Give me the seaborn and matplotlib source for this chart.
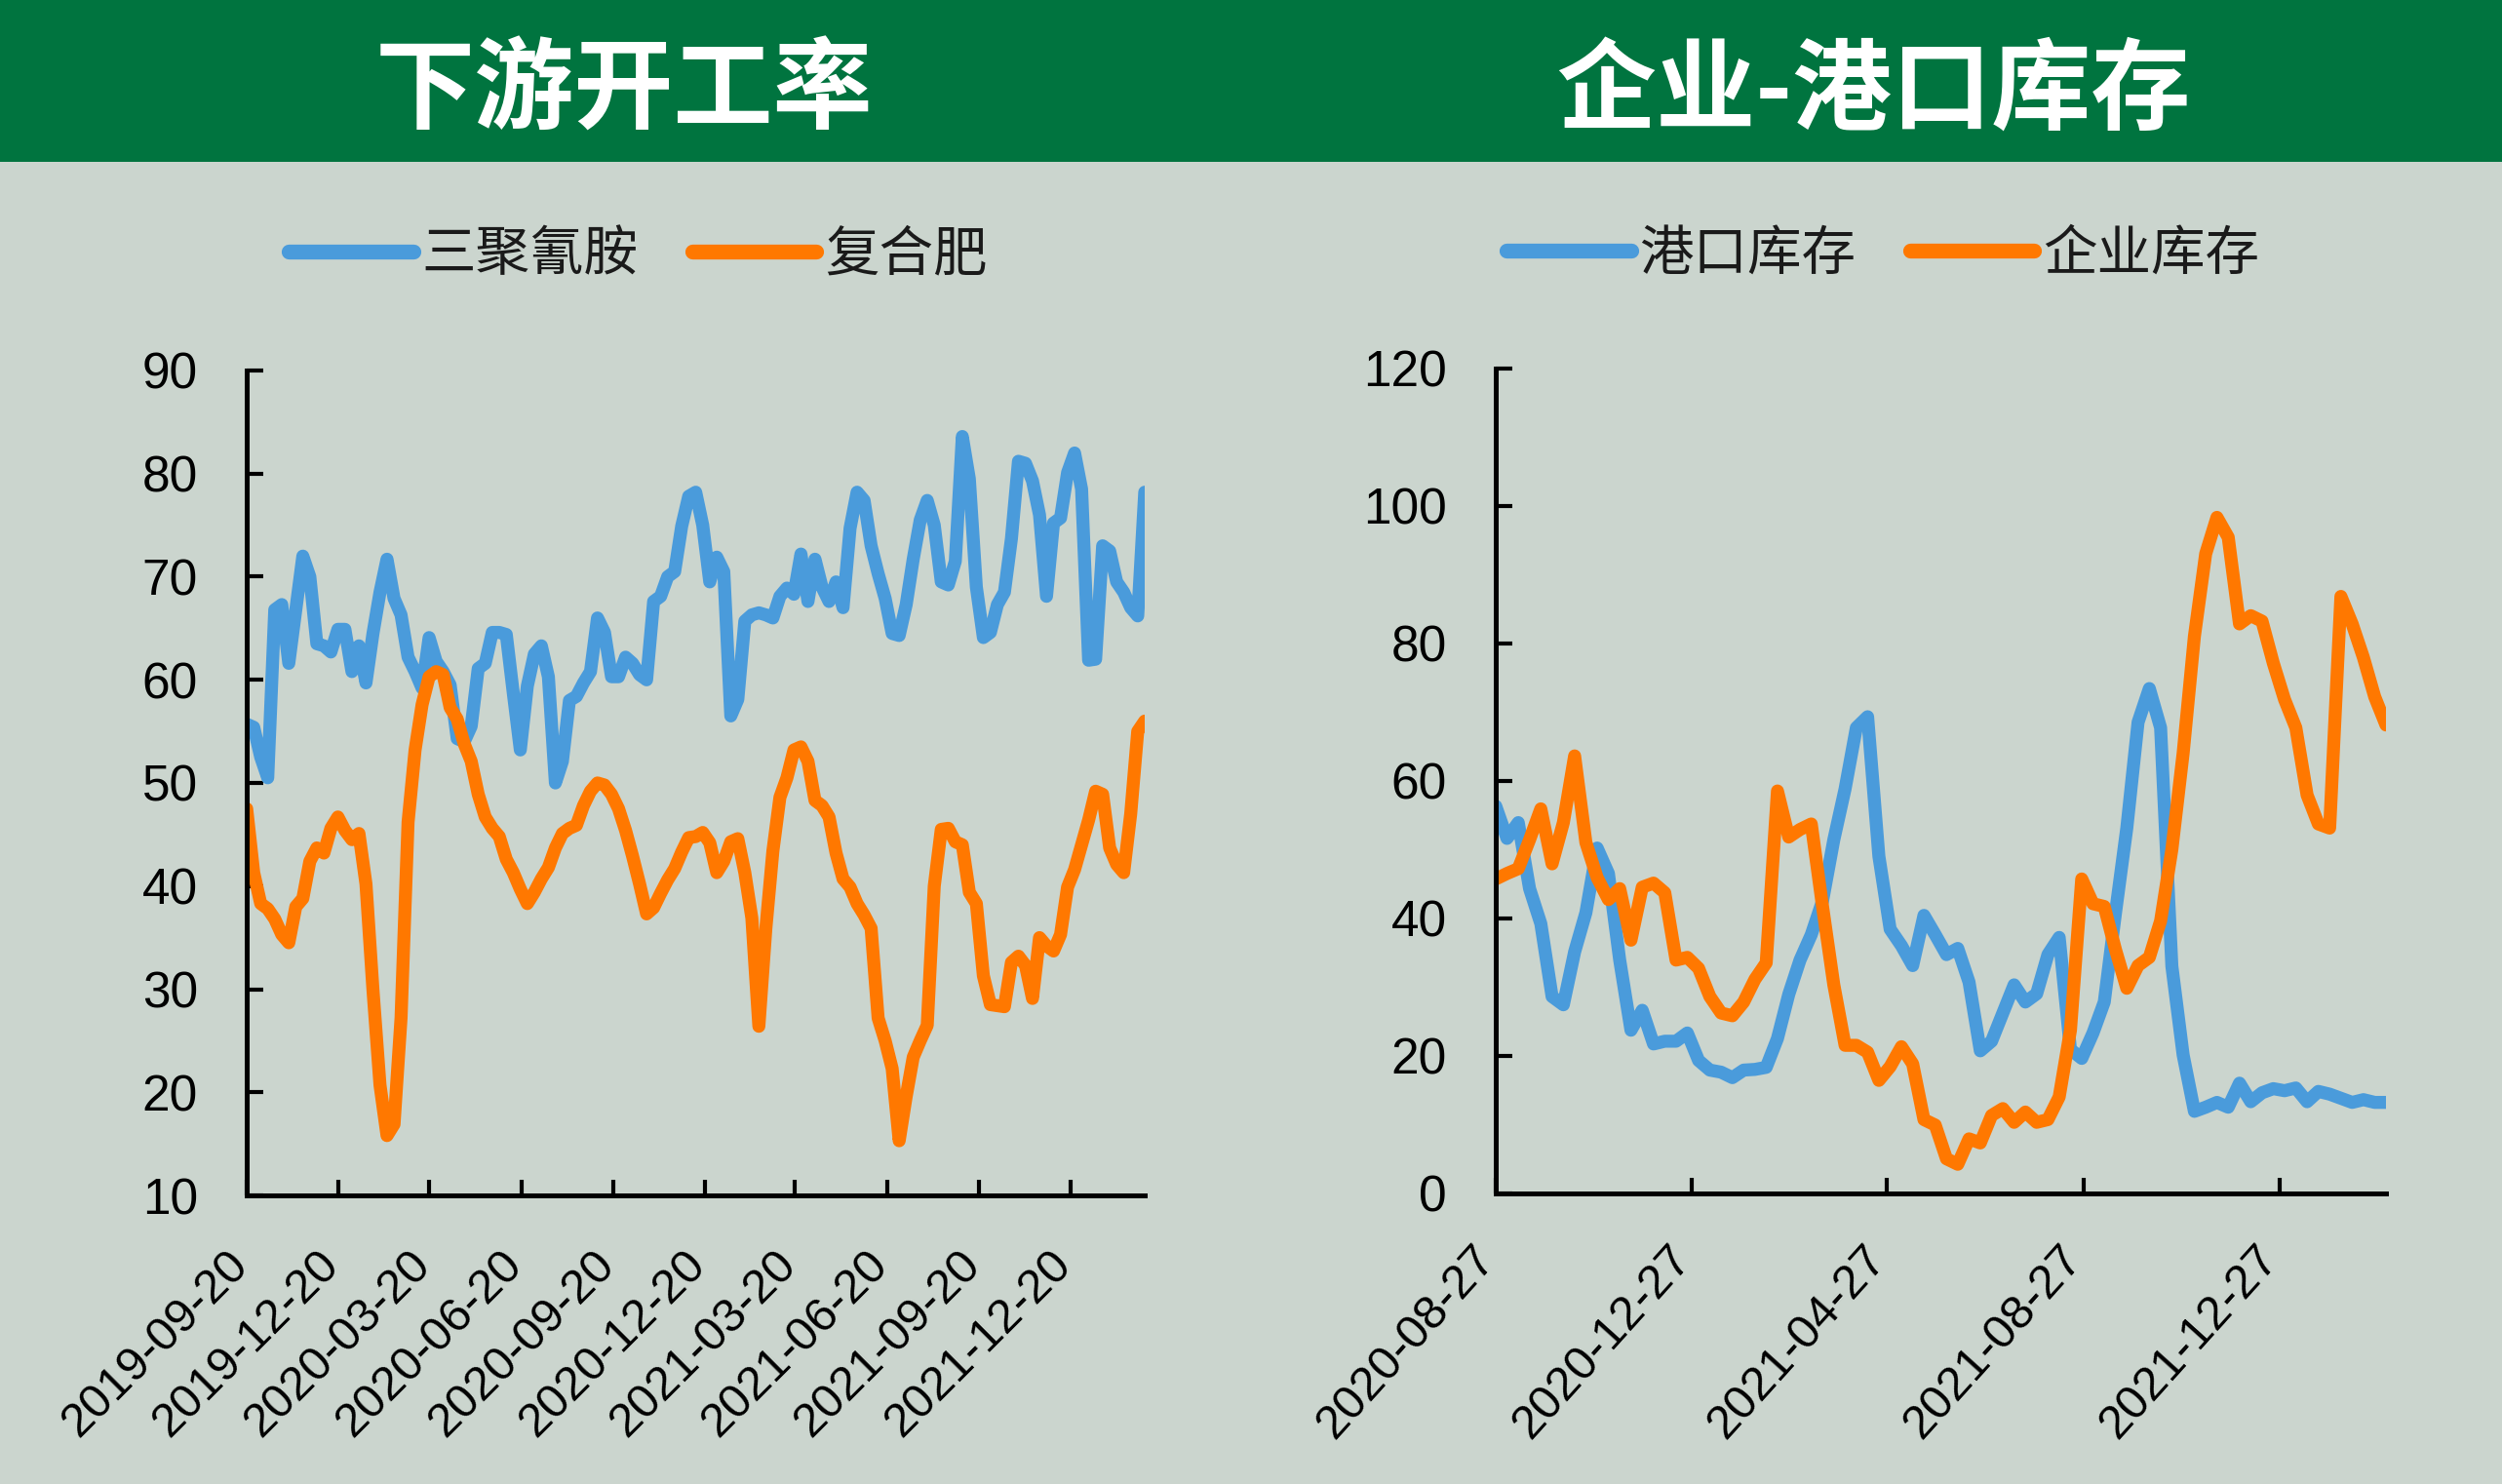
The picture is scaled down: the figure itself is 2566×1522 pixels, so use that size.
import numpy as np
import pandas as pd
import matplotlib
matplotlib.use('Agg')
import matplotlib.pyplot as plt
import seaborn as sns
from matplotlib.patches import Rectangle
import matplotlib.transforms as mtransforms

# ---------------- data ----------------
left_title = '下游开工率'
right_title = '企业-港口库存'
left_names = ['三聚氰胺', '复合肥']
right_names = ['港口库存', '企业库存']
left_start = '2019-09-20'
right_start = '2020-08-27'

melamine = [55.7, 55.4, 52.5, 50.5, 66.8, 67.3, 61.6, 66.8, 72.0, 70.0,
            63.5, 63.3, 62.7, 64.9, 64.9, 60.8, 63.3, 59.7, 64.5, 68.5,
            71.7, 67.9, 66.3, 62.2, 60.8, 59.2, 64.1, 61.8, 60.8, 59.5,
            54.3, 54.0, 55.5, 61.1, 61.6, 64.6, 64.6, 64.4, 58.7, 53.2,
            59.4, 62.5, 63.3, 60.3, 50.0, 52.1, 58.0, 58.4, 59.7, 60.8,
            66.0, 64.6, 60.3, 60.3, 62.2, 61.6, 60.5, 60.0, 67.6, 68.1,
            70.0, 70.5, 74.9, 77.8, 78.2, 75.0, 69.5, 71.9, 70.5, 56.5,
            58.1, 65.7, 66.3, 66.5, 66.3, 66.0, 68.1, 68.9, 68.3, 72.2,
            67.6, 71.7, 69.0, 67.6, 69.5, 67.0, 74.7, 78.2, 77.4, 73.0,
            70.3, 67.9, 64.5, 64.3, 67.3, 71.7, 75.5, 77.4, 75.0, 69.5,
            69.2, 71.5, 83.6, 79.5, 69.0, 64.1, 64.6, 67.3, 68.5, 73.7,
            81.2, 81.0, 79.3, 76.0, 68.1, 75.2, 75.7, 80.1, 82.0, 78.5,
            61.9, 62.0, 73.0, 72.5, 69.5, 68.5, 67.0, 66.2, 78.2]

fertilizer = [47.5, 41.3, 38.3, 37.8, 36.8, 35.3, 34.5, 38.0, 38.8, 42.4,
              43.7, 43.2, 45.6, 46.7, 45.4, 44.5, 45.1, 40.2, 29.9, 20.7,
              15.8, 16.9, 27.2, 46.2, 53.2, 57.6, 60.3, 60.8, 60.5, 57.3,
              56.2, 53.8, 52.1, 48.9, 46.7, 45.6, 44.8, 42.6, 41.3, 39.7,
              38.3, 39.4, 40.7, 41.8, 43.7, 45.1, 45.6, 45.9, 47.8, 49.2,
              50.0, 49.8, 48.9, 47.5, 45.4, 42.9, 40.2, 37.3, 37.9, 39.3,
              40.6, 41.7, 43.3, 44.7, 44.8, 45.2, 44.2, 41.3, 42.4, 44.3,
              44.6, 41.3, 36.9, 26.4, 35.9, 43.4, 48.6, 50.5, 53.2, 53.5,
              52.1, 48.3, 47.8, 46.7, 43.2, 40.7, 39.9, 38.3, 37.2, 35.9,
              27.2, 25.0, 22.3, 15.3, 19.6, 23.4, 25.0, 26.5, 40.0, 45.5,
              45.6, 44.3, 44.0, 39.4, 38.3, 31.3, 28.5, 28.4, 28.3, 32.6,
              33.2, 32.3, 29.1, 35.0, 34.2, 33.7, 35.3, 39.9, 41.6, 44.0,
              46.4, 49.2, 48.9, 43.7, 42.1, 41.3, 47.0, 55.0, 56.0]

port_stock = [56.3, 51.6, 53.9, 44.3, 39.2, 28.6, 27.4, 35.1, 40.8, 50.2,
              46.5, 33.9, 23.7, 26.6, 21.7, 22.1, 22.1, 23.3, 19.3, 17.9,
              17.6, 16.8, 17.9, 18.0, 18.3, 22.5, 28.9, 33.9, 37.6, 42.5,
              51.4, 58.8, 67.7, 69.3, 49.0, 38.4, 36.0, 33.1, 40.4, 37.6,
              34.7, 35.6, 30.7, 20.7, 22.1, 26.2, 30.3, 27.8, 29.0, 34.7,
              37.2, 20.9, 19.6, 23.3, 27.8, 40.8, 53.1, 68.5, 73.4, 67.7,
              33.0, 20.1, 11.9, 12.5, 13.2, 12.5, 16.0, 13.3, 14.6, 15.2,
              14.9, 15.3, 13.3, 14.8, 14.4, 13.8, 13.2, 13.6, 13.2, 13.2]

firm_stock = [45.7, 46.5, 47.2, 51.4, 55.9, 47.9, 53.9, 63.6, 51.0, 45.9,
              42.7, 44.3, 36.8, 44.5, 45.1, 43.7, 33.9, 34.3, 32.7, 28.6,
              26.2, 25.8, 27.8, 31.1, 33.5, 58.5, 51.8, 52.9, 53.7, 41.7,
              30.3, 21.5, 21.5, 20.5, 16.4, 18.4, 21.3, 18.8, 10.7, 9.9,
              5.0, 4.2, 7.9, 7.3, 11.3, 12.3, 10.3, 11.8, 10.3, 10.7,
              14.0, 23.7, 45.7, 42.1, 41.7, 35.4, 29.8, 33.1, 34.3, 39.6,
              50.0, 64.0, 81.0, 93.0, 98.3, 95.4, 82.8, 84.0, 83.2, 77.1,
              71.8, 67.7, 57.9, 53.7, 53.1, 86.8, 82.8, 77.9, 72.2, 68.1]

left_xticks = ['2019-09-20', '2019-12-20', '2020-03-20', '2020-06-20',
               '2020-09-20', '2020-12-20', '2021-03-20', '2021-06-20',
               '2021-09-20', '2021-12-20']
right_xticks = ['2020-08-27', '2020-12-27', '2021-04-27', '2021-08-27',
                '2021-12-27']
left_yticks = [10, 20, 30, 40, 50, 60, 70, 80, 90]
right_yticks = [0, 20, 40, 60, 80, 100, 120]

# ---------------- style ----------------
BLUE = '#4A9BDB'
ORANGE = '#FF7800'
BG = '#CBD5CE'
GREEN = '#00743F'

sns.set_theme(style='ticks')
plt.rcParams['font.family'] = ['Liberation Sans', 'Noto Sans CJK SC', 'DejaVu Sans']
plt.rcParams['axes.unicode_minus'] = False

CJK = ['Noto Sans CJK SC', 'DejaVu Sans']

fig = plt.figure(figsize=(25.66, 15.22), dpi=100, facecolor=BG)
fig.add_artist(Rectangle((0, 0.8909), 1, 0.1091, transform=fig.transFigure,
                         facecolor=GREEN, edgecolor='none', zorder=0))

ax1 = fig.add_axes([0.09860, 0.19448, 0.35893, 0.55585])
ax2 = fig.add_axes([0.59782, 0.19599, 0.35581, 0.55591])


def make_df(start, names, s1, s2):
    dates = pd.date_range(start, periods=len(s1), freq='7D')
    d1 = pd.DataFrame({'date': dates, 'value': s1, 'series': names[0]})
    d2 = pd.DataFrame({'date': dates, 'value': s2, 'series': names[1]})
    return pd.concat([d1, d2], ignore_index=True), dates


def style_axes(ax, df, dates, names, yticks, xticks, rot, dx_px, lab_pad):
    sns.lineplot(data=df, x='date', y='value', hue='series', hue_order=names,
                 palette=[BLUE, ORANGE], linewidth=9.6, ax=ax, legend=False,
                 sort=False)
    for ln in ax.get_lines():
        ln.set_solid_capstyle('round')
        ln.set_solid_joinstyle('round')
    ax.set_facecolor(BG)
    ax.set_xlim(dates[0], dates[-1])
    ax.set_ylim(yticks[0], yticks[-1])
    ax.set_yticks(yticks)
    ax.set_yticklabels([str(v) for v in yticks])
    ax.set_xticks(pd.to_datetime(xticks))
    ax.set_xticklabels(xticks, rotation=rot, ha='right', va='top')
    ax.set_xlabel('')
    ax.set_ylabel('')
    for side in ['top', 'right']:
        ax.spines[side].set_visible(False)
    for side in ['left', 'bottom']:
        ax.spines[side].set_linewidth(3.6)
        ax.spines[side].set_color('black')
        ax.spines[side].set_capstyle('projecting')
    ax.tick_params(axis='y', direction='in', length=12, width=3.0,
                   labelsize=37, pad=36, colors='black')
    ax.tick_params(axis='x', direction='in', length=11.5, width=3.0,
                   labelsize=35, pad=lab_pad, colors='black')
    off = mtransforms.ScaledTranslation(dx_px / 100, 0, fig.dpi_scale_trans)
    for lab in ax.get_xticklabels():
        lab.set_transform(lab.get_transform() + off)
    ax.grid(False)


df1, d1 = make_df(left_start, left_names, melamine, fertilizer)
df2, d2 = make_df(right_start, right_names, port_stock, firm_stock)
style_axes(ax1, df1, d1, left_names, left_yticks, left_xticks, 45, 10, 35)
style_axes(ax2, df2, d2, right_names, right_yticks, right_xticks, 48, 8, 32)

# titles
fig.text(0.2494, 0.938, left_title, ha='center', va='center', color='white',
         fontsize=73.5, fontweight='bold', family=CJK)
fig.text(0.7487, 0.938, right_title, ha='center', va='center', color='white',
         fontsize=73.5, fontweight='bold', family=CJK)

# legends
for ax, anchor in [(ax1, (0.2549, 0.828)), (ax2, (0.7525, 0.8286))]:
    lines = ax.get_lines()[:2]
    names = left_names if ax is ax1 else right_names
    leg = fig.legend(lines, names, loc='center', bbox_to_anchor=anchor,
                     ncol=2, frameon=False, handlelength=2.3,
                     handletextpad=0.15, columnspacing=1.0,
                     prop={'family': CJK, 'size': 40})
    for h in leg.get_lines():
        h.set_linewidth(11)
        h.set_solid_capstyle('round')
    for t in leg.get_texts():
        t.set_color('#1a1a1a')

fig.savefig('out.png', dpi=100, facecolor=BG)
